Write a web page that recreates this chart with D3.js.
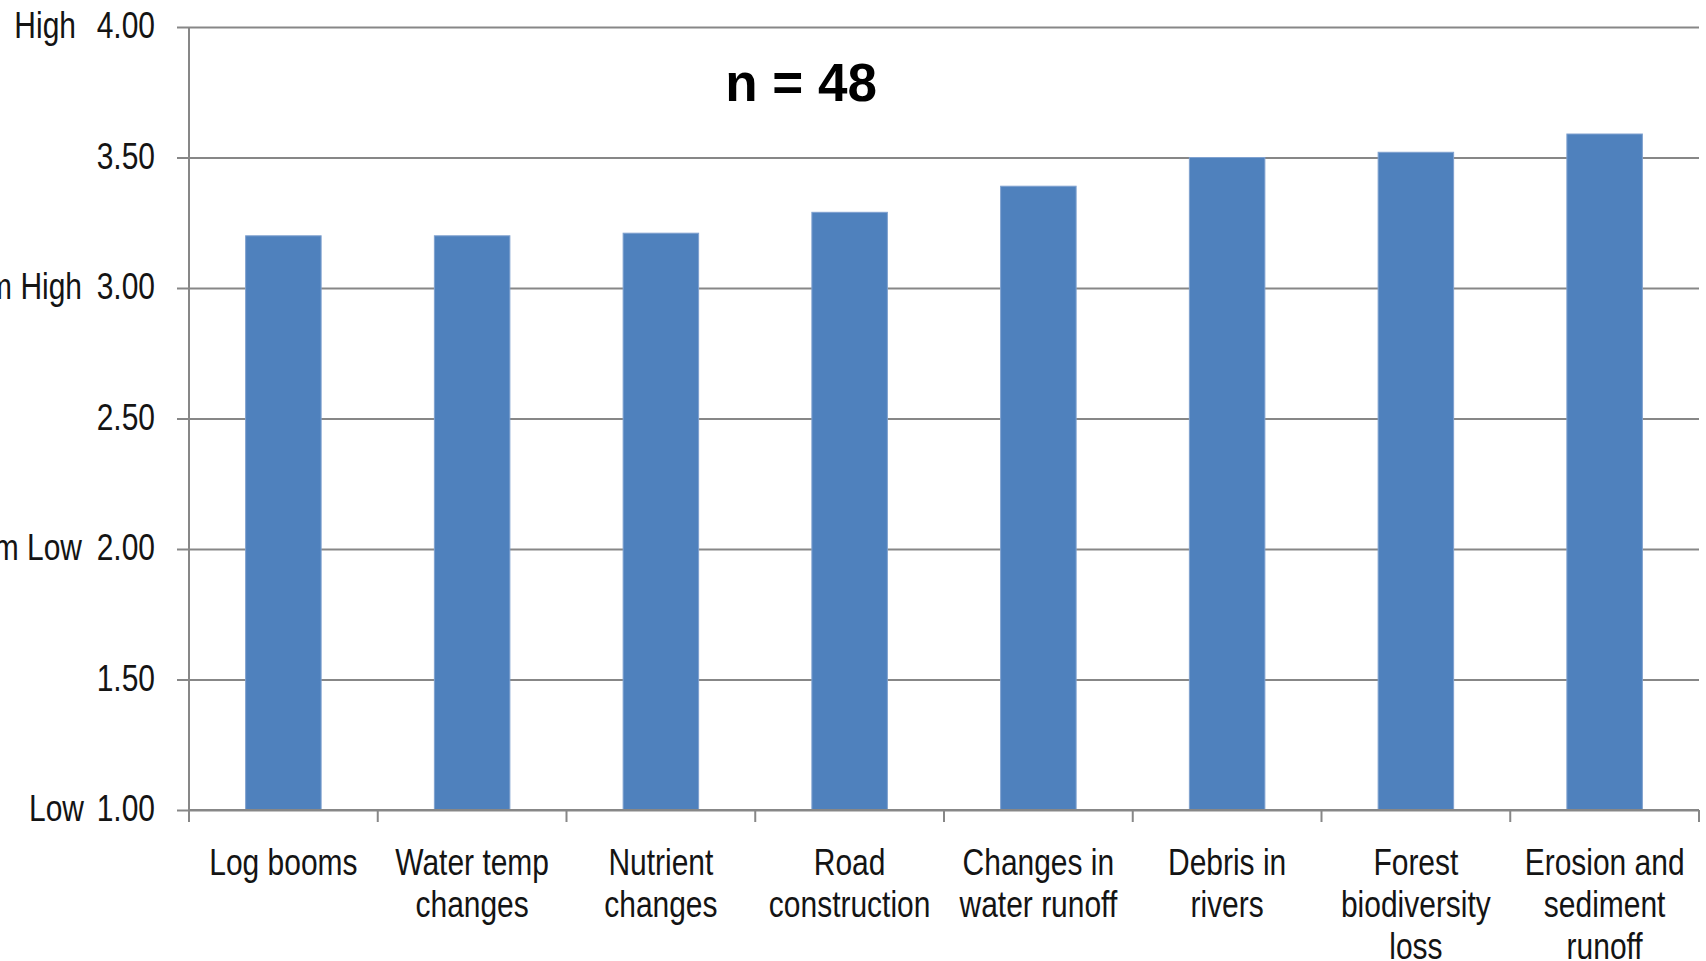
<!DOCTYPE html>
<html>
<head>
<meta charset="utf-8">
<script src="https://cdn.jsdelivr.net/npm/d3@7/dist/d3.min.js"></script>
<style>
  html, body { margin: 0; padding: 0; background: #fff; overflow: hidden; }
  svg { display: block; }
</style>
</head>
<body>
<script>
// Threat categories and their mean rating (1 = Low ... 4 = High)
const categories = [
  "Log booms",
  "Water temp changes",
  "Nutrient changes",
  "Road construction",
  "Changes in water runoff",
  "Debris in rivers",
  "Forest biodiversity loss",
  "Erosion and sediment runoff"
];
const meanRatings = [3.20, 3.20, 3.21, 3.29, 3.39, 3.50, 3.52, 3.59];

// Wrapped category labels, one entry per line
const categoryLines = [
  ["Log booms"],
  ["Water temp", "changes"],
  ["Nutrient", "changes"],
  ["Road", "construction"],
  ["Changes in", "water runoff"],
  ["Debris in", "rivers"],
  ["Forest", "biodiversity", "loss"],
  ["Erosion and", "sediment", "runoff"]
];

const yTicks = [1.00, 1.50, 2.00, 2.50, 3.00, 3.50, 4.00];
const ratingLevels = [
  { value: 4.00, label: "High" },
  { value: 3.00, label: "Medium High" },
  { value: 2.00, label: "Medium Low" },
  { value: 1.00, label: "Low" }
];
const sampleSize = 48;

const W = 1706, H = 961;
const plot = { left: 189, right: 1699, top: 27, bottom: 810 };
const FONT = "Liberation Sans, Arial, sans-serif";
const NARROW = 0.81;   // horizontal squeeze for a narrow face
const FS = 37;

const svg = d3.select("body").append("svg")
  .attr("width", W).attr("height", H);

const x = d3.scaleBand()
  .domain(categories)
  .range([plot.left, plot.right])
  .paddingInner(0.6)
  .paddingOuter(0.3);

const y = d3.scaleLinear()
  .domain([1, 4])
  .range([plot.bottom, plot.top]);

const gridColor = "#878787";
const textColor = "#141414";

// Narrow text helper: a group positioned at (px, py) and squeezed horizontally
function narrowText(parent, px, py, anchor) {
  return parent.append("g")
    .attr("transform", `translate(${px},${py}) scale(${NARROW},1)`)
    .append("text")
    .attr("text-anchor", anchor)
    .attr("font-family", FONT)
    .attr("font-size", FS)
    .attr("fill", textColor);
}

// Horizontal gridlines with short outward ticks
const yAxis = d3.axisLeft(y)
  .tickValues(yTicks)
  .tickFormat(d3.format(".2f"))
  .tickSize(-(plot.right - plot.left))
  .tickSizeOuter(0);

const gy = svg.append("g")
  .attr("transform", `translate(${plot.left},0)`)
  .call(yAxis);
gy.select(".domain").remove();
gy.selectAll(".tick text").remove();
gy.selectAll(".tick line")
  .attr("x1", -12)
  .attr("stroke", gridColor)
  .attr("stroke-width", 2);
gy.selectAll(".tick").each(function (d) {
  narrowText(d3.select(this), -34, -2, "end")
    .attr("dy", "0.35em")
    .text(d3.format(".2f")(d));
});

// Bars
svg.append("g")
  .selectAll("rect")
  .data(categories)
  .join("rect")
  .attr("x", d => x(d))
  .attr("width", x.bandwidth())
  .attr("y", (d, i) => y(meanRatings[i]))
  .attr("height", (d, i) => y(1) - y(meanRatings[i]))
  .attr("fill", "#4F81BD")
  .attr("stroke", "#7FA1CF")
  .attr("stroke-width", 1);

// Vertical axis line
svg.append("line")
  .attr("x1", plot.left).attr("x2", plot.left)
  .attr("y1", plot.top).attr("y2", plot.bottom + 12)
  .attr("stroke", gridColor).attr("stroke-width", 2);

// Category axis with tick marks between categories
const boundaries = d3.range(categories.length + 1)
  .map(i => plot.left + i * (plot.right - plot.left) / categories.length);
svg.append("line")
  .attr("x1", plot.left).attr("x2", plot.right)
  .attr("y1", plot.bottom).attr("y2", plot.bottom)
  .attr("stroke", gridColor).attr("stroke-width", 2);
svg.append("g")
  .selectAll("line")
  .data(boundaries)
  .join("line")
  .attr("x1", d => d).attr("x2", d => d)
  .attr("y1", plot.bottom).attr("y2", plot.bottom + 12)
  .attr("stroke", gridColor).attr("stroke-width", 2);

// Category labels
const labelLayer = svg.append("g");
categories.forEach((c, i) => {
  const t = narrowText(labelLayer, x(c) + x.bandwidth() / 2, plot.bottom + 65, "middle");
  t.selectAll("tspan")
    .data(categoryLines[i])
    .join("tspan")
    .attr("x", 0)
    .attr("y", (d, j) => j * 42)
    .text(d => d);
});

// Rating level names beside the value ticks
const levelLayer = svg.append("g");
ratingLevels.forEach(r => {
  narrowText(levelLayer, r.label === "Low" ? 84 : (r.label === "High" ? 76 : 82), y(r.value) - 2, "end")
    .attr("dy", "0.35em")
    .text(r.label);
});

// Sample size note
svg.append("text")
  .attr("x", 801)
  .attr("y", 101)
  .attr("text-anchor", "middle")
  .attr("font-family", FONT)
  .attr("font-weight", "bold")
  .attr("font-size", 53)
  .attr("fill", "#000")
  .text(`n = ${sampleSize}`);
</script>
</body>
</html>
